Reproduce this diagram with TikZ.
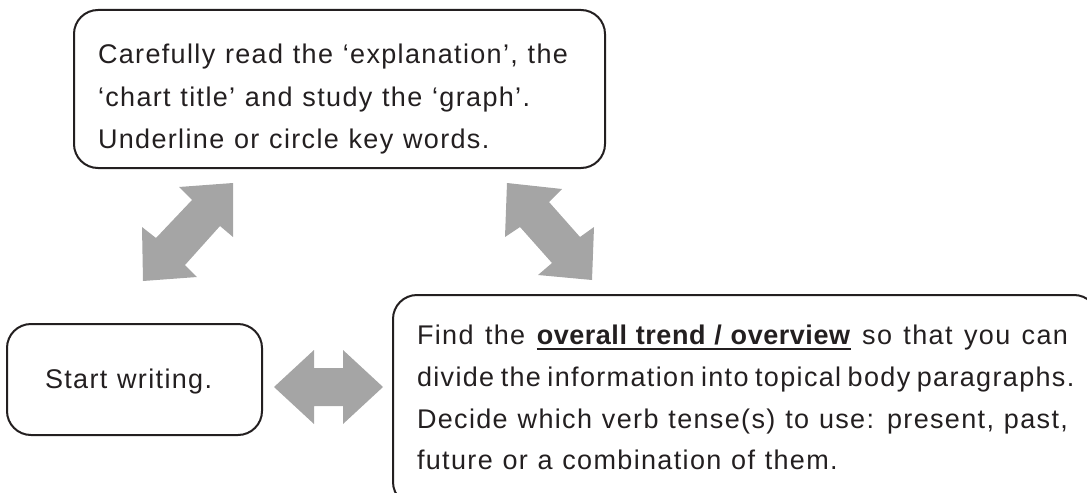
\documentclass[tikz,border=0pt]{standalone}
\usepackage{fontspec}
\setmainfont{Liberation Sans}[LetterSpace=5, WordSpace=1.1, BoldFeatures={LetterSpace=2}]
\definecolor{ink}{HTML}{231F20}
\definecolor{arrowgray}{HTML}{A5A5A5}
\newcommand\myul[1]{\setbox0\hbox{#1}\rlap{\rule[-4.5pt]{\wd0}{1.3pt}}\box0\relax}
\begin{document}
\begin{tikzpicture}[x=0.75pt,y=-0.75pt,
  box/.style={draw=ink, line width=1.5pt, rounded corners=18pt, inner sep=0pt, outer sep=0pt, anchor=north west},
  txt/.style={anchor=base west, inner sep=0pt, outer sep=0pt, text=ink, font=\fontsize{20.25pt}{30pt}\selectfont},
  blockarrow/.style={fill=arrowgray, draw=none}]
\useasboundingbox (0,0) rectangle (1087,492);
\clip (0,0) rectangle (1087,492);
% boxes
\node[box, minimum width=398.25pt, minimum height=118.5pt] (top) at (74,10) {};
\node[box, minimum width=191.25pt, minimum height=83.25pt] (left) at (7,324) {};
\node[box, minimum width=528.75pt, minimum height=158.25pt] (right) at (393,295) {};
% texts
\node[txt] (t1) at (98,64) {Carefully read the ‘explanation’, the};
\node[txt] (t2) at (98,106) {‘chart title’ and study the ‘graph’.};
\node[txt] (t3) at (98,148) {Underline or circle key words.};
\node[txt] (s1) at (45,388) {Start writing.};
\node[txt] (r1) at (417,344) {\makebox[488.25pt][s]{Find the \myul{\textbf{overall trend / overview}} so that you can}};
\node[txt] (r2) at (417,386) {\makebox[488.25pt][s]{divide the information into topical body paragraphs.}};
\node[txt] (r3) at (417,428) {\makebox[488.25pt][s]{Decide which verb tense(s) to use: present, past,}};
\node[txt] (r4) at (417,469) {future or a combination of them.};
% block arrows
\fill[blockarrow] (233,183) -- (179,187) -- (192,200) -- (156,238) -- (142,227) -- (143,281) -- (197,277) -- (185,265) -- (220,226) -- (233,237) -- cycle;
\fill[blockarrow] (507,183) -- (562,189) -- (549,202) -- (580,237) -- (594,227) -- (592,280) -- (538,275) -- (552,263) -- (520,227) -- (505,237) -- cycle;
\fill[blockarrow] (274,387) -- (314,350) -- (314,368) -- (343,368) -- (343,350) -- (383,387) -- (343,424) -- (343,406) -- (314,406) -- (314,424) -- cycle;
\end{tikzpicture}
\end{document}
